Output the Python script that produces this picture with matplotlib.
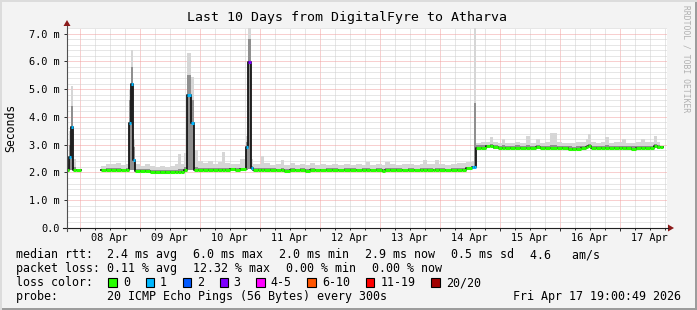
import matplotlib

matplotlib.use("Agg")
import matplotlib.pyplot as plt
from matplotlib.lines import Line2D
from matplotlib.patches import Polygon, Rectangle
import numpy as np

W, H = 697, 310
MONO = "DejaVu Sans Mono"
nan = float("nan")

# time axis: hours since Tue 07 Apr 19:00 (left edge), window of 240 h
T = [0.0, 0.8, 1.6, 2.4, 3.6, 5.6,
     13.6, 15.6, 17.6, 19.6, 21.6, 23.6, 24.8, 25.6, 26.4,
     27.2, 29.2, 31.2, 33.2, 35.2, 37.2, 39.2, 41.2, 43.2, 44.4, 45.6, 46.8,
     48.0, 49.6,
     50.8, 52.4, 54.4, 56.4, 58.4, 60.4, 62.0, 63.2, 65.2, 67.2, 69.2,
     71.6, 72.4, 73.6,
     74.4, 76.4, 77.6, 78.8, 81.2, 83.6, 85.6, 86.8, 89.2, 91.2, 93.2, 95.2,
     97.2, 99.2, 101.2, 103.6, 106.0, 108.4, 110.8, 113.2, 115.6, 118.0, 119.6,
     121.2, 123.6, 126.0, 127.2, 129.2, 131.6, 134.0, 136.4, 138.8, 141.2,
     142.4, 144.0, 146.4, 147.2, 148.8, 151.2, 153.6, 156.0, 158.0, 159.6,
     162.0, 162.8,
     163.6, 165.6, 167.6, 169.2, 170.4, 172.4, 174.0, 175.2, 177.2, 179.2,
     181.2, 183.6, 185.2, 187.6, 189.2, 191.2, 193.2, 196.0, 198.0, 200.4,
     202.0, 203.6, 205.6, 207.6, 208.4, 209.6, 211.6, 213.6, 215.2, 216.8,
     218.8, 220.8, 222.0, 223.6, 225.6, 227.6, 229.6, 231.2, 233.2, 234.8,
     236.0, 237.2, 238.4]

# median rtt in ms
MED = [2.09, 2.56, 3.64, 2.10, 2.10, nan,
       2.08, 2.08, 2.09, 2.08, 2.08, 2.09, 3.78, 5.20, 2.45,
       2.05, 2.05, 2.05, 2.03, 2.00, 2.00, 2.00, 2.01, 2.01, 2.02, 2.03, 2.08,
       4.78, 3.79,
       2.10, 2.10, 2.10, 2.10, 2.09, 2.10, 2.10, 2.10, 2.11, 2.10, 2.11,
       2.92, 5.98, 2.17,
       2.10, 2.09, 2.09, 2.08, 2.09, 2.08, 2.08, 2.07, 2.08, 2.08, 2.08, 2.07,
       2.08, 2.08, 2.08, 2.09, 2.08, 2.08, 2.09, 2.08, 2.08, 2.09, 2.08,
       2.08, 2.08, 2.07, 2.08, 2.08, 2.09, 2.08, 2.09, 2.08, 2.09,
       2.08, 2.09, 2.08, 2.08, 2.09, 2.08, 2.09, 2.09, 2.10, 2.15,
       2.18, 2.20,
       2.89, 2.89, 2.95, 2.95, 2.90, 2.89, 2.89, 2.89, 2.88, 2.89,
       2.88, 2.89, 2.89, 2.90, 2.89, 2.88, 2.89, 2.88, 2.88, 2.86,
       2.83, 2.86, 2.88, 2.90, 2.95, 2.88, 2.88, 2.89, 2.89, 2.88,
       2.89, 2.88, 2.89, 2.87, 2.86, 2.87, 2.88, 2.89, 2.89, 2.95,
       2.90, 2.90, nan]

# packet loss class per sample (index into LOSS_COLORS)
LOSS = [0, 1, 1, 0, 0, 0,
        0, 0, 0, 0, 0, 0, 1, 1, 1,
        0, 0, 0, 0, 0, 0, 0, 0, 0, 0, 0, 0,
        1, 1,
        0, 0, 0, 0, 0, 0, 0, 0, 0, 0, 0,
        1, 3, 1,
        0, 0, 0, 0, 0, 0, 0, 0, 0, 0, 0, 0,
        0, 0, 0, 0, 0, 0, 0, 0, 0, 0, 0,
        0, 0, 0, 0, 0, 0, 0, 0, 0, 0,
        0, 0, 0, 0, 0, 0, 0, 0, 0, 0,
        1, 1,
        0, 0, 0, 0, 0, 0, 0, 0, 0, 0,
        0, 0, 0, 0, 0, 0, 0, 0, 0, 0,
        0, 0, 0, 0, 0, 0, 0, 0, 0, 0,
        0, 0, 0, 0, 0, 0, 0, 0, 0, 0,
        0, 0, 0]

# smoke: lowest ping, dense band top, highest ping (ms)
LO = [2.05, 2.08, 2.10, 2.06, 2.06, nan,
      2.04, 2.04, 2.05, 2.04, 2.04, 2.05, 2.08, 2.10, 2.08,
      2.01, 2.01, 2.01, 1.99, 1.96, 1.96, 1.96, 1.97, 1.97, 1.98, 1.99, 2.04,
      2.10, 2.10,
      2.06, 2.06, 2.06, 2.06, 2.05, 2.06, 2.06, 2.06, 2.07, 2.06, 2.07,
      2.10, 2.12, 2.10,
      2.06, 2.05, 2.05, 2.04, 2.05, 2.04, 2.04, 2.03, 2.04, 2.04, 2.04, 2.03,
      2.04, 2.04, 2.04, 2.05, 2.04, 2.04, 2.05, 2.04, 2.04, 2.05, 2.04,
      2.04, 2.04, 2.03, 2.04, 2.04, 2.05, 2.04, 2.05, 2.04, 2.05,
      2.04, 2.05, 2.04, 2.04, 2.05, 2.04, 2.05, 2.05, 2.06, 2.10,
      2.12, 2.14,
      2.84, 2.84, 2.90, 2.90, 2.85, 2.84, 2.84, 2.84, 2.83, 2.84,
      2.83, 2.84, 2.84, 2.85, 2.84, 2.83, 2.84, 2.83, 2.83, 2.81,
      2.78, 2.81, 2.83, 2.85, 2.90, 2.83, 2.83, 2.84, 2.84, 2.83,
      2.84, 2.83, 2.84, 2.82, 2.81, 2.82, 2.83, 2.84, 2.84, 2.90,
      2.85, 2.85, nan]

MID = [2.15, 3.00, 4.40, 2.20, 2.15, nan,
       2.14, 2.15, 2.15, 2.15, 2.14, 2.15, 4.60, 5.80, 2.90,
       2.12, 2.12, 2.12, 2.10, 2.08, 2.08, 2.08, 2.08, 2.10, 2.12, 2.12, 2.20,
       5.50, 4.60,
       2.20, 2.15, 2.15, 2.16, 2.15, 2.15, 2.16, 2.15, 2.16, 2.15, 2.17,
       3.10, 6.80, 2.25,
       2.16, 2.15, 2.16, 2.15, 2.15, 2.14, 2.15, 2.14, 2.15, 2.14, 2.15, 2.14,
       2.15, 2.14, 2.14, 2.15, 2.15, 2.14, 2.15, 2.15, 2.14, 2.15, 2.15,
       2.14, 2.15, 2.14, 2.15, 2.15, 2.15, 2.14, 2.15, 2.14, 2.15,
       2.15, 2.15, 2.14, 2.15, 2.15, 2.14, 2.15, 2.16, 2.17, 2.20,
       2.24, 4.50,
       2.98, 2.98, 3.00, 3.02, 2.98, 2.97, 2.98, 2.97, 2.97, 2.98,
       2.97, 2.98, 2.97, 2.98, 2.97, 2.97, 2.98, 2.97, 2.96, 2.95,
       2.93, 2.95, 2.97, 2.98, 3.02, 2.97, 2.96, 2.97, 2.98, 2.97,
       2.97, 2.96, 2.97, 2.96, 2.95, 2.96, 2.97, 2.97, 2.97, 3.02,
       2.98, 2.99, nan]

HI = [2.30, 3.50, 5.10, 2.50, 2.30, nan,
      2.25, 2.32, 2.30, 2.33, 2.28, 2.30, 5.00, 6.42, 3.20,
      2.30, 2.25, 2.30, 2.22, 2.20, 2.22, 2.20, 2.25, 2.30, 2.68, 2.30, 2.70,
      6.30, 5.45,
      2.80, 2.40, 2.35, 2.42, 2.30, 2.38, 2.74, 2.35, 2.32, 2.30, 2.50,
      3.30, 7.60, 2.50,
      2.30, 2.30, 2.59, 2.35, 2.28, 2.30, 2.45, 2.28, 2.35, 2.27, 2.30, 2.28,
      2.35, 2.27, 2.30, 2.28, 2.30, 2.27, 2.30, 2.28, 2.30, 2.28, 2.36,
      2.28, 2.30, 2.27, 2.38, 2.30, 2.28, 2.30, 2.32, 2.28, 2.30,
      2.45, 2.30, 2.32, 2.45, 2.30, 2.28, 2.30, 2.35, 2.33, 2.36,
      2.40, 7.60,
      3.07, 3.10, 3.10, 3.28, 3.10, 3.05, 3.20, 3.07, 3.05, 3.10,
      3.07, 3.30, 3.07, 3.20, 3.05, 3.10, 3.43, 3.08, 3.05, 3.07,
      3.05, 3.08, 3.10, 3.20, 3.38, 3.10, 3.07, 3.10, 3.28, 3.07,
      3.10, 3.08, 3.20, 3.07, 3.05, 3.08, 3.20, 3.08, 3.10, 3.30,
      3.10, 3.77, nan]

DAY_LABELS = ["08 Apr", "09 Apr", "10 Apr", "11 Apr", "12 Apr",
              "13 Apr", "14 Apr", "15 Apr", "16 Apr", "17 Apr"]
Y_LABELS = ["0.0", "1.0 m", "2.0 m", "3.0 m", "4.0 m", "5.0 m", "6.0 m", "7.0 m"]

LOSS_NAMES = ["0", "1", "2", "3", "4-5", "6-10", "11-19", "20/20"]
LOSS_COLORS = ["#26ff00", "#00b8ff", "#0059ff", "#7e00ff",
               "#ff00ff", "#ff5500", "#ff0000", "#a10000"]

RTT_LINE = ["median rtt:  2.4 ms avg", "6.0 ms max", "2.0 ms min",
            "2.9 ms now", "0.5 ms sd", "4.6   am/s"]
LOSS_LINE = ["packet loss: 0.11 % avg", "12.32 % max", "0.00 % min", "0.00 % now"]
PROBE_LINE = "probe:       20 ICMP Echo Pings (56 Bytes) every 300s"
STAMP = "Fri Apr 17 19:00:49 2026"

BG = "#f3f3f3"
MINOR = "#cfcfcf"
MAJOR = "#f2a0a0"
ARROW = "#8b1a1a"
LEG_FS = 8.35


def fx(x):
    return x / W


def fy(y):
    return 1 - y / H


fig = plt.figure(figsize=(W / 100, H / 100), dpi=100, facecolor=BG)
ax = fig.add_axes([fx(67), fy(228), 600 / W, 200 / H])
ax.set_facecolor("white")
ax.set_xlim(0, 240)
ax.set_ylim(0, 7.2)
for s in ax.spines.values():
    s.set_visible(False)

# grid (rrdtool style dotted)
t = np.array(T)
six_h = np.arange(5, 240, 6)
midnights = np.arange(5, 240, 24)
ax.set_xticks(midnights)
ax.set_xticks(six_h, minor=True)
ax.set_yticks(np.arange(0, 8))
ax.set_yticks(np.arange(0, 7.21, 0.2), minor=True)
ax.grid(True, which="minor", color=MINOR, lw=0.72, ls=(0, (1, 1)))
ax.grid(True, which="major", color=MAJOR, lw=0.72, ls=(0, (1, 1)))
ax.set_axisbelow(True)
ax.set_xticklabels([])
ax.set_yticklabels(Y_LABELS, family=MONO, fontsize=7.4)
ax.tick_params(which="both", direction="out", color="#333333", width=0.72)
ax.tick_params(which="major", length=2.2, pad=3)
ax.tick_params(which="minor", length=1.5)
ax.tick_params(axis="y", which="minor", length=0)

for i, lab in enumerate(DAY_LABELS):
    ax.text(17 + 24 * i, -0.36, lab, family=MONO, fontsize=7.4,
            ha="center", va="center")

# smoke
ax.fill_between(t, LO, HI, step="post", color="#d6d6d6", lw=0)
ax.fill_between(t, LO, MID, step="post", color="#8f8f8f", lw=0)

# median: black step transitions, loss-coloured plateaus
ax.plot(t, MED, drawstyle="steps-post", color="#151515", lw=1.3)
ax.hlines(MED[:-1], t[:-1], t[1:], colors=[LOSS_COLORS[k] for k in LOSS[:-1]],
          lw=2.2)

# axes with arrows
fig.add_artist(Line2D([fx(63), fx(668)], [fy(228), fy(228)], color="#202020", lw=0.8))
fig.add_artist(Line2D([fx(67), fx(67)], [fy(231), fy(26)], color="#505050", lw=0.8))
fig.add_artist(Polygon([[fx(668), fy(224.5)], [fx(674), fy(228)], [fx(668), fy(231.5)]],
                       closed=True, color=ARROW, lw=0))
fig.add_artist(Polygon([[fx(63.5), fy(26)], [fx(67), fy(20)], [fx(70.5), fy(26)]],
                       closed=True, color=ARROW, lw=0))

# texts
fig.text(fx(347), fy(18), "Last 10 Days from DigitalFyre to Atharva",
         family=MONO, fontsize=9.5, ha="center", va="center")
fig.text(fx(11), fy(128), "Seconds", family=MONO, fontsize=8.3,
         rotation=90, ha="center", va="center")
fig.text(fx(686), fy(5), "RRDTOOL / TOBI OETIKER", family=MONO, fontsize=5.8,
         rotation=270, ha="center", va="top", color="#b0b0b0")

for lab, x in zip(RTT_LINE, [16, 193, 279, 365, 451, 530]):
    fig.text(fx(x), fy(254.5), lab, family=MONO, fontsize=LEG_FS, va="center")
for lab, x in zip(LOSS_LINE, [16, 193, 286, 372]):
    fig.text(fx(x), fy(268.5), lab, family=MONO, fontsize=LEG_FS, va="center")
fig.text(fx(16), fy(282.5), "loss color:", family=MONO, fontsize=LEG_FS, va="center")
box_x = [108, 145.5, 182.5, 219.5, 256, 307, 365.5, 431]
lab_x = [123, 160, 197, 233, 270, 322, 381, 446]
for name, col, bx, lx in zip(LOSS_NAMES, LOSS_COLORS, box_x, lab_x):
    fig.add_artist(Rectangle((fx(bx), fy(286.5)), 8.5 / W, 8.5 / H,
                             facecolor=col, edgecolor="black", lw=0.8))
    fig.text(fx(lx), fy(282.5), name, family=MONO, fontsize=LEG_FS, va="center")
fig.text(fx(16), fy(296.5), PROBE_LINE, family=MONO, fontsize=LEG_FS, va="center")
fig.text(fx(681), fy(296.5), STAMP, family=MONO, fontsize=LEG_FS, va="center", ha="right")

# 3d frame
fig.add_artist(Rectangle((0, 0), 1, 2 / H, color="#9c9c9c", lw=0))
fig.add_artist(Rectangle((1 - 2 / W, 0), 2 / W, 1, color="#9c9c9c", lw=0))
fig.add_artist(Rectangle((0, 1 - 2 / H), 1, 2 / H, color="#dcdcdc", lw=0))
fig.add_artist(Rectangle((0, 0), 2 / W, 1, color="#dcdcdc", lw=0))

fig.savefig("out.png", dpi=100, facecolor=BG)
